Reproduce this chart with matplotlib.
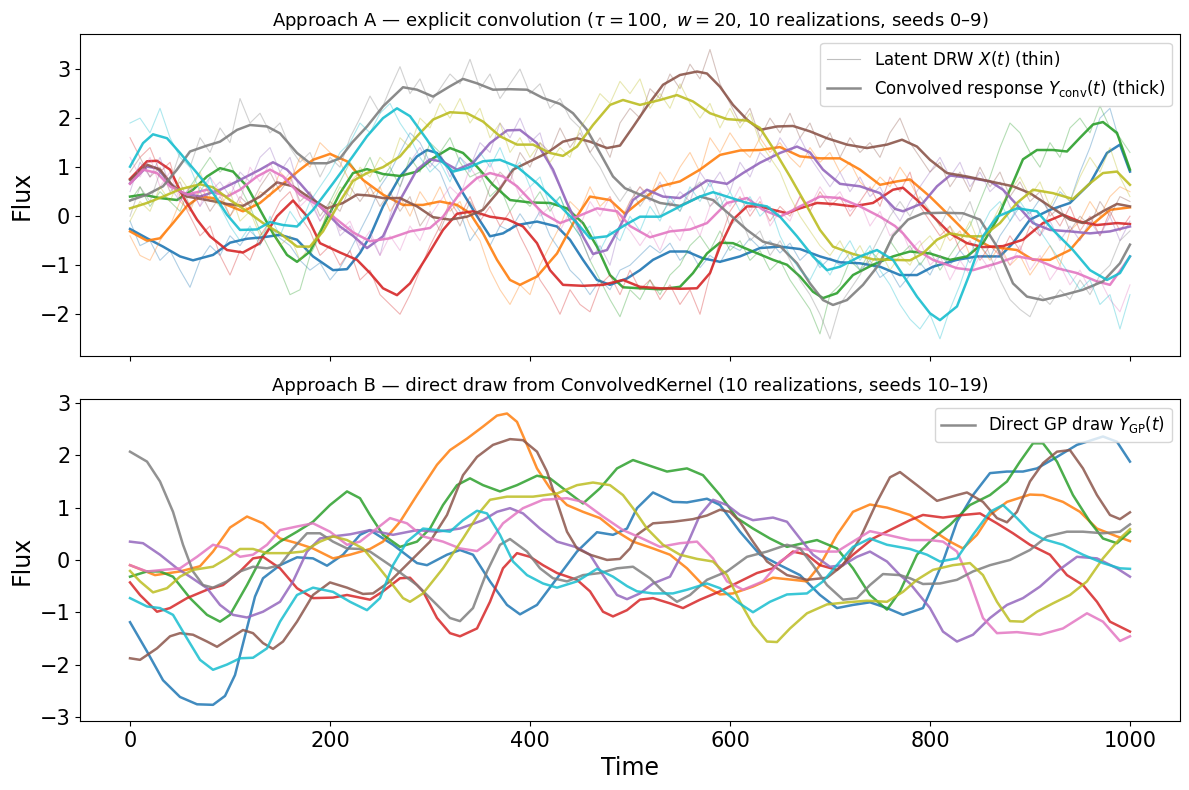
import matplotlib
matplotlib.use("Agg")
import matplotlib.pyplot as plt
from matplotlib.lines import Line2D

COLORS = ["tab:blue", "tab:orange", "tab:green", "tab:red", "tab:purple",
          "tab:brown", "tab:pink", "tab:gray", "tab:olive", "tab:cyan"]

# latent curves were read every 10 time units
T10 = list(range(0, 1001, 10))

# ---- Approach A: convolved responses (thick), seeds 0-9, read as (time, flux) ----
conv0_t = [0, 17, 33, 50, 63, 83, 100, 117, 133, 150, 167, 183, 203, 217, 230, 240, 253, 270, 287, 297, 307, 320, 333, 347, 360, 373, 387, 407, 427, 440, 453, 467, 480, 497, 510, 523, 540, 557, 573, 590, 610, 630, 650, 670, 690, 710, 730, 750, 770, 787, 803, 827, 847, 870, 883, 900, 920, 940, 960, 977, 990, 1000]
conv0_y = [-0.26, -0.45, -0.62, -0.82, -0.9, -0.79, -0.54, -0.46, -0.43, -0.38, -0.48, -0.82, -1.1, -1.08, -0.75, -0.41, 0.2, 0.81, 1.22, 1.35, 1.29, 0.95, 0.47, 0.0, -0.41, -0.35, -0.18, -0.11, -0.21, -0.48, -0.89, -1.3, -1.4, -1.27, -1.1, -0.89, -0.72, -0.72, -0.86, -0.93, -0.82, -0.65, -0.62, -0.67, -0.82, -0.94, -0.96, -1.03, -1.2, -1.2, -1.03, -0.89, -0.82, -0.82, -0.55, -0.07, 0.13, 0.27, 0.67, 1.29, 1.46, 0.91]
conv1_t = [0, 17, 30, 43, 57, 70, 83, 97, 113, 130, 150, 170, 183, 200, 217, 233, 253, 273, 293, 310, 327, 340, 353, 367, 380, 390, 407, 427, 447, 460, 480, 495, 510, 530, 550, 570, 590, 610, 630, 650, 670, 690, 710, 730, 750, 767, 780, 800, 820, 840, 860, 887, 903, 920, 940, 960, 980, 1000]
conv1_y = [-0.31, -0.5, -0.45, -0.14, 0.21, 0.4, 0.37, 0.23, 0.1, 0.27, 0.61, 0.95, 1.15, 1.27, 1.12, 0.74, 0.44, 0.23, 0.23, 0.3, 0.23, 0.06, -0.35, -0.89, -1.3, -1.4, -1.23, -0.76, 0.0, 0.4, 0.33, 0.05, 0.3, 0.61, 0.71, 0.95, 1.25, 1.34, 1.35, 1.41, 1.22, 1.18, 1.18, 0.95, 0.64, 0.71, 0.75, 0.4, 0.0, -0.41, -0.62, -0.69, -0.89, -0.89, -0.69, -0.21, 0.13, 0.18]
conv2_t = [0, 13, 30, 47, 63, 77, 90, 103, 117, 130, 143, 157, 167, 180, 193, 210, 223, 237, 253, 270, 287, 303, 320, 333, 347, 363, 380, 400, 420, 437, 453, 467, 480, 493, 510, 530, 550, 563, 577, 590, 603, 623, 643, 657, 670, 683, 693, 707, 723, 743, 763, 780, 800, 820, 837, 853, 867, 880, 893, 907, 923, 937, 950, 963, 973, 987, 1000]
conv2_y = [0.4, 0.44, 0.37, 0.33, 0.54, 0.81, 0.98, 0.91, 0.61, 0.13, -0.35, -0.79, -0.93, -0.72, -0.21, 0.47, 0.88, 0.96, 0.86, 0.82, 0.91, 1.18, 1.39, 1.29, 1.01, 0.64, 0.33, 0.28, 0.27, 0.16, -0.14, -0.62, -1.2, -1.45, -1.47, -1.49, -1.44, -1.16, -0.76, -0.54, -0.55, -0.72, -0.89, -0.99, -1.23, -1.54, -1.67, -1.57, -1.2, -0.99, -0.82, -0.72, -0.76, -0.89, -0.82, -0.55, -0.07, 0.54, 1.16, 1.35, 1.35, 1.32, 1.6, 1.87, 1.92, 1.7, 0.95]
conv3_t = [0, 17, 27, 40, 53, 67, 80, 97, 113, 130, 147, 163, 177, 190, 210, 227, 240, 253, 267, 280, 297, 313, 327, 343, 360, 377, 393, 407, 420, 433, 453, 473, 493, 510, 530, 550, 567, 580, 590, 603, 617, 630, 643, 657, 670, 687, 703, 723, 743, 763, 773, 787, 803, 820, 837, 853, 873, 893, 913, 933, 950, 967, 987, 1000]
conv3_y = [0.76, 1.12, 1.13, 0.95, 0.4, -0.07, -0.41, -0.69, -0.74, -0.55, 0.0, 0.32, 0.0, -0.55, -0.74, -0.89, -1.16, -1.47, -1.61, -1.37, -0.82, -0.28, 0.05, 0.1, -0.01, -0.06, -0.21, -0.55, -1.1, -1.4, -1.42, -1.4, -1.3, -1.44, -1.47, -1.48, -1.47, -1.16, -0.62, -0.07, 0.2, 0.2, 0.13, 0.06, 0.16, 0.27, 0.25, 0.2, 0.27, 0.54, 0.58, 0.33, 0.0, -0.35, -0.55, -0.63, -0.61, -0.48, -0.14, 0.03, -0.11, -0.18, -0.14, -0.16]
conv4_t = [0, 17, 27, 40, 53, 70, 90, 110, 130, 143, 157, 170, 190, 210, 223, 237, 253, 270, 287, 300, 313, 327, 343, 360, 377, 390, 407, 423, 437, 453, 463, 477, 490, 503, 517, 533, 550, 563, 577, 597, 613, 630, 650, 667, 680, 693, 710, 730, 750, 765, 773, 793, 807, 820, 840, 860, 873, 887, 903, 920, 940, 960, 980, 1000]
conv4_y = [0.67, 1.01, 0.98, 0.67, 0.47, 0.4, 0.54, 0.74, 0.95, 1.1, 0.95, 0.67, 0.2, -0.21, -0.4, -0.65, -0.41, 0.33, 0.95, 1.16, 1.11, 0.95, 1.09, 1.49, 1.75, 1.76, 1.49, 0.95, 0.27, -0.41, -0.77, -0.69, -0.21, 0.33, 0.54, 0.4, 0.37, 0.54, 0.73, 0.66, 0.88, 1.09, 1.29, 1.42, 1.3, 0.95, 0.66, 0.61, 0.47, 0.15, 0.1, 0.27, 0.61, 0.83, 0.78, 0.71, 0.54, 0.23, -0.14, -0.28, -0.31, -0.35, -0.31, -0.21]
conv5_t = [0, 17, 30, 43, 57, 77, 97, 113, 130, 147, 163, 180, 197, 213, 227, 240, 253, 270, 287, 303, 320, 337, 353, 367, 383, 400, 417, 433, 447, 460, 477, 490, 503, 517, 533, 550, 567, 577, 590, 603, 617, 630, 647, 663, 680, 697, 717, 737, 757, 772, 787, 800, 817, 837, 860, 883, 900, 920, 940, 953, 973, 987, 1000]
conv5_y = [0.74, 1.05, 0.95, 0.61, 0.4, 0.33, 0.25, 0.21, 0.4, 0.69, 0.61, 0.37, 0.16, 0.27, 0.44, 0.42, 0.37, 0.37, 0.2, -0.02, -0.07, -0.01, 0.13, 0.47, 0.95, 1.12, 1.29, 1.52, 1.59, 1.52, 1.39, 1.44, 1.82, 2.24, 2.68, 2.88, 2.95, 2.91, 2.64, 2.27, 1.97, 1.76, 1.83, 1.84, 1.73, 1.59, 1.46, 1.39, 1.46, 1.56, 1.42, 1.15, 0.88, 0.81, 0.71, 0.61, 0.47, 0.2, -0.07, -0.14, 0.1, 0.25, 0.2]
conv6_t = [0, 13, 27, 40, 57, 77, 97, 110, 127, 140, 153, 170, 190, 207, 223, 240, 260, 280, 300, 313, 330, 347, 360, 373, 387, 400, 413, 430, 447, 467, 487, 500, 520, 540, 560, 577, 597, 617, 633, 650, 670, 690, 710, 730, 750, 765, 773, 787, 803, 827, 843, 867, 887, 907, 927, 947, 967, 980, 993, 1000]
conv6_y = [0.66, 0.95, 0.88, 0.61, 0.44, 0.54, 0.4, 0.54, 0.81, 0.95, 0.81, 0.44, 0.2, -0.07, -0.33, -0.51, -0.45, -0.31, -0.24, -0.01, 0.47, 0.78, 0.88, 0.81, 0.61, 0.33, 0.06, -0.14, -0.01, 0.16, 0.1, -0.2, -0.43, -0.31, -0.27, -0.14, 0.27, 0.37, 0.13, -0.01, 0.2, 0.4, 0.37, 0.2, -0.01, -0.2, -0.35, -0.69, -0.89, -1.06, -1.1, -0.96, -0.82, -0.89, -1.06, -1.16, -1.33, -1.4, -1.03, -0.82]
conv7_t = [0, 17, 33, 47, 60, 77, 90, 107, 120, 137, 150, 167, 180, 197, 210, 222, 237, 253, 273, 287, 303, 320, 333, 347, 363, 380, 397, 413, 430, 443, 457, 470, 483, 495, 510, 530, 550, 570, 583, 600, 617, 633, 650, 667, 680, 693, 703, 717, 733, 750, 763, 778, 793, 813, 833, 850, 867, 883, 897, 913, 933, 953, 973, 990, 1000]
conv7_y = [0.32, 0.44, 0.61, 0.95, 1.32, 1.44, 1.52, 1.76, 1.86, 1.83, 1.69, 1.29, 1.08, 1.08, 1.18, 1.5, 1.83, 2.24, 2.63, 2.58, 2.44, 2.65, 2.8, 2.71, 2.58, 2.59, 2.58, 2.41, 2.29, 2.1, 1.76, 1.29, 0.81, 0.57, 0.44, 0.27, 0.21, 0.4, 0.33, 0.03, -0.28, -0.52, -0.61, -0.96, -1.37, -1.71, -1.81, -1.71, -1.4, -0.96, -0.4, -0.07, 0.06, 0.07, 0.06, -0.07, -0.62, -1.37, -1.64, -1.71, -1.61, -1.5, -1.33, -0.96, -0.58]
conv8_t = [0, 17, 33, 50, 70, 83, 100, 117, 133, 150, 167, 180, 193, 210, 223, 237, 253, 270, 287, 303, 320, 337, 353, 370, 387, 403, 420, 433, 447, 463, 480, 493, 510, 530, 547, 563, 580, 597, 617, 630, 643, 660, 677, 690, 703, 723, 743, 763, 780, 793, 807, 820, 837, 853, 870, 887, 903, 923, 943, 960, 973, 987, 1000]
conv8_y = [0.16, 0.27, 0.4, 0.55, 0.65, 0.59, 0.33, 0.1, -0.14, -0.35, -0.62, -0.62, -0.31, 0.3, 0.72, 0.88, 1.0, 1.22, 1.63, 1.97, 2.12, 2.1, 1.93, 1.63, 1.46, 1.46, 1.29, 1.23, 1.42, 1.86, 2.27, 2.37, 2.27, 2.37, 2.47, 2.34, 2.1, 1.98, 1.95, 1.8, 1.39, 0.81, 0.2, -0.28, -0.62, -0.77, -0.88, -0.89, -0.9, -0.76, -0.48, -0.35, -0.41, -0.41, -0.14, 0.27, 0.54, 0.47, 0.35, 0.67, 0.88, 0.91, 0.64]
conv9_t = [0, 13, 23, 37, 50, 67, 83, 97, 110, 127, 140, 153, 167, 183, 203, 222, 237, 253, 267, 280, 297, 310, 323, 337, 353, 370, 387, 407, 427, 447, 460, 477, 495, 510, 530, 550, 570, 583, 597, 617, 637, 650, 667, 683, 697, 710, 730, 747, 763, 773, 787, 800, 810, 827, 840, 853, 867, 887, 907, 923, 943, 960, 977, 990, 1000]
conv9_y = [1.01, 1.49, 1.67, 1.59, 1.29, 0.88, 0.47, 0.03, -0.28, -0.27, -0.12, -0.18, -0.21, 0.13, 0.67, 1.2, 1.63, 2.0, 2.2, 2.04, 1.56, 1.15, 0.91, 0.98, 1.12, 1.15, 1.01, 0.67, 0.27, -0.14, -0.45, -0.41, -0.18, -0.01, -0.01, 0.2, 0.4, 0.49, 0.4, 0.27, 0.2, -0.01, -0.41, -0.82, -1.1, -1.03, -0.82, -0.69, -0.89, -1.2, -1.64, -1.98, -2.12, -1.84, -1.16, -0.41, -0.01, 0.16, 0.1, -0.28, -0.69, -1.1, -1.3, -1.16, -0.82]

# ---- Approach A: latent DRW (thin), seeds 0-9, one value every 10 time units ----
drw_0 = [-0.1, -0.6, -0.5, -0.9, -0.7, -1.1, -1.45, -0.9, -0.6, -0.8, -0.4, -0.6, -0.3, -0.5, -0.2, -0.45, -0.6, -0.9, -1.1, -0.95, -1.3, -1.05, -0.7, -0.3, 0.1, 0.6, 0.9, 1.3, 1.7, 1.5, 1.1, 0.9, 0.4, 0.1, -0.5, -0.2, -0.6, -0.2, -0.3, 0.05, -0.25, 0.1, -0.4, -0.7, -1.1, -1.3, -1.6, -1.3, -1.5, -1.1, -1.0, -0.8, -0.6, -0.75, -0.55, -0.9, -0.7, -1.05, -0.8, -0.95, -0.6, -0.7, -0.45, -0.65, -0.5, -0.75, -0.55, -0.9, -0.7, -1.05, -0.85, -1.0, -0.75, -1.1, -0.9, -1.25, -1.1, -1.45, -1.2, -0.95, -1.2, -0.8, -1.0, -0.7, -0.95, -0.6, -0.85, -0.4, -0.1, 0.2, 0.05, 0.35, 0.1, 0.5, 0.3, 0.9, 1.4, 2.0, 2.2, 1.5, 0.9]
drw_1 = [-0.4, -0.8, -0.9, -0.5, -0.2, 0.3, 0.1, 0.6, 0.3, 0.5, 0.0, 0.3, 0.1, 0.5, 0.4, 0.9, 0.7, 1.2, 1.0, 1.5, 1.3, 1.1, 0.7, 0.9, 0.4, 0.6, 0.1, 0.4, 0.0, 0.5, 0.2, 0.6, 0.1, 0.3, -0.2, -0.5, -1.1, -1.5, -1.8, -1.4, -1.6, -1.0, -0.6, -0.2, 0.3, 0.1, 0.6, 0.2, 0.4, -0.1, 0.3, 0.6, 0.4, 0.9, 0.6, 1.0, 1.3, 0.9, 1.6, 1.3, 1.7, 1.4, 1.2, 1.6, 1.3, 1.5, 1.2, 1.0, 1.4, 1.1, 1.3, 0.9, 1.1, 0.7, 0.5, 0.8, 0.6, 1.0, 0.7, 0.3, 0.1, -0.2, -0.5, -0.3, -0.8, -0.6, -0.9, -0.6, -1.0, -0.8, -1.2, -0.9, -0.6, -1.0, -0.3, -0.1, 0.3, 0.0, 0.4, 0.6, 0.5]
drw_2 = [0.3, 0.6, 0.2, 0.5, 0.3, 0.1, 0.6, 0.9, 1.2, 0.9, 1.1, 0.6, 0.2, -0.3, -0.7, -1.1, -1.6, -1.5, -0.8, -0.4, 0.3, 0.7, 1.1, 0.8, 1.2, 0.7, 1.0, 0.6, 1.2, 0.9, 1.5, 1.3, 1.6, 1.1, 0.8, 0.9, 0.4, 0.6, 0.1, 0.4, 0.2, 0.5, 0.1, 0.4, -0.1, -0.4, -0.9, -1.3, -1.7, -2.05, -1.5, -1.7, -1.3, -1.6, -1.2, -1.0, -0.6, -0.4, -0.7, -0.3, -0.7, -0.5, -0.9, -0.7, -1.1, -0.9, -1.3, -1.6, -1.9, -2.4, -1.6, -1.4, -0.9, -1.1, -0.7, -0.9, -0.5, -0.8, -0.6, -1.0, -0.7, -1.1, -0.8, -0.5, -0.2, 0.3, 0.8, 1.4, 1.9, 1.7, 1.3, 1.0, 1.5, 1.2, 1.8, 2.0, 1.7, 2.25, 1.8, 1.6, 1.3]
drw_3 = [1.6, 1.2, 1.4, 0.9, 1.1, 0.4, 0.0, -0.4, -0.2, -0.8, -1.2, -0.7, -0.9, -0.4, -0.1, 0.3, 0.5, 0.0, -0.3, -0.8, -0.6, -1.0, -0.7, -1.3, -1.1, -1.6, -1.8, -2.0, -1.6, -1.1, -0.6, -0.2, 0.3, 0.0, 0.4, -0.1, 0.2, -0.2, 0.1, -0.4, -0.8, -1.3, -1.6, -2.0, -1.5, -1.8, -1.95, -1.4, -1.2, -1.6, -1.1, -1.5, -1.3, -1.7, -1.4, -1.8, -1.5, -2.0, -1.2, -0.5, 0.1, 0.4, 0.0, 0.3, -0.1, 0.2, 0.0, 0.4, 0.1, 0.5, 0.2, 0.4, 0.0, 0.3, 0.6, 0.2, 0.8, 0.5, 0.9, 0.2, -0.1, -0.4, -0.2, -0.7, -0.5, -0.9, -0.6, -0.8, -0.4, -0.7, -0.2, -0.4, 0.1, -0.2, 0.2, -0.3, 0.0, -0.4, 0.1, -0.3, 0.0]
drw_4 = [0.5, 1.1, 0.8, 1.2, 0.6, 0.3, 0.6, 0.2, 0.5, 0.7, 0.4, 0.9, 0.7, 1.2, 1.4, 0.9, 1.2, 0.5, 0.3, -0.1, 0.2, -0.4, -0.2, -0.7, -0.4, -0.8, 0.0, 0.6, 1.1, 1.4, 1.0, 1.3, 0.8, 1.2, 1.0, 1.5, 1.3, 1.9, 1.6, 2.0, 1.5, 1.7, 1.0, 0.6, 0.1, -0.4, -0.9, -0.6, -1.0, -0.2, 0.3, 0.6, 0.3, 0.7, 0.2, 0.5, 0.3, 0.9, 0.6, 0.9, 0.5, 1.1, 0.8, 1.3, 1.1, 1.6, 1.3, 1.6, 1.2, 0.9, 0.6, 0.9, 0.5, 0.8, 0.4, 0.6, 0.2, -0.1, 0.3, 0.6, 0.9, 1.2, 0.8, 1.1, 0.6, 0.9, 0.5, 0.7, 0.2, -0.1, 0.1, -0.4, -0.1, -0.5, -0.2, -0.5, -0.1, -0.4, 0.0, -0.5, -0.1]
drw_5 = [0.9, 1.2, 0.8, 1.0, 0.5, 0.7, 0.2, 0.5, 0.1, 0.4, 0.0, 0.4, 0.2, 0.6, 0.9, 0.5, 0.8, 0.3, 0.5, 0.0, 0.3, 0.1, 0.6, 0.3, 0.6, 0.2, 0.5, 0.1, 0.4, -0.2, 0.1, -0.3, 0.2, -0.2, 0.3, 0.0, 0.6, 0.9, 0.7, 1.3, 1.0, 1.5, 1.3, 1.8, 1.4, 1.7, 1.3, 1.6, 1.2, 1.9, 2.2, 2.0, 2.6, 2.4, 2.9, 2.6, 3.1, 2.8, 3.4, 2.7, 2.3, 1.9, 2.2, 1.6, 2.0, 1.7, 2.1, 1.6, 1.9, 1.4, 1.7, 1.2, 1.6, 1.3, 1.5, 1.2, 1.7, 2.0, 1.5, 1.2, 0.9, 1.1, 0.6, 0.9, 0.5, 1.0, 0.6, 0.9, 0.4, 0.7, 0.3, 0.5, 0.0, 0.2, -0.3, 0.0, -0.2, 0.3, 0.0, 0.4, 0.3]
drw_6 = [1.2, 0.8, 1.2, 0.6, 0.9, 0.3, 0.6, 0.2, 0.8, 0.5, 0.7, 0.3, 1.0, 0.7, 1.1, 0.6, 0.9, 0.2, 0.4, -0.1, 0.2, -0.3, -0.1, -0.6, -0.3, -0.8, -0.4, -0.7, -0.2, -0.5, 0.0, 0.3, 0.6, 0.4, 1.0, 0.7, 1.1, 0.6, 0.9, 0.4, 0.6, 0.0, 0.2, -0.3, 0.1, -0.2, 0.3, 0.0, 0.4, -0.1, -0.3, -0.6, -0.3, -0.7, -0.2, -0.5, 0.0, -0.4, 0.2, 0.5, 0.2, 0.6, 0.1, 0.4, -0.2, 0.1, -0.1, 0.4, 0.2, 0.6, 0.3, 0.5, 0.1, 0.3, -0.2, 0.1, -0.4, -0.2, -0.7, -0.5, -1.0, -0.8, -1.3, -0.9, -1.2, -0.8, -1.1, -0.7, -1.0, -0.6, -1.1, -0.8, -1.3, -1.0, -1.4, -1.1, -1.5, -1.3, -1.7, -1.95, -1.4]
drw_7 = [0.0, 0.6, 0.3, 0.9, 0.7, 1.3, 1.0, 1.6, 1.3, 1.8, 1.5, 2.4, 1.9, 2.1, 1.7, 1.9, 1.4, 1.1, 1.3, 0.8, 1.2, 1.0, 1.6, 2.0, 2.45, 2.1, 2.6, 3.05, 2.5, 2.8, 2.3, 2.6, 2.9, 2.7, 3.2, 2.6, 2.9, 2.4, 2.7, 3.0, 2.5, 2.7, 2.2, 2.4, 2.0, 1.8, 1.3, 1.0, 0.6, 0.3, 0.6, 0.2, 0.5, 0.0, 0.3, 0.1, 0.5, 0.7, 0.2, 0.4, -0.2, 0.0, -0.5, -0.3, -0.8, -0.5, -0.9, -1.3, -1.6, -2.0, -2.5, -1.8, -1.5, -1.2, -0.8, -0.4, 0.0, 0.3, 0.0, 0.4, 0.1, -0.2, 0.2, -0.1, 0.3, -0.3, -0.8, -1.3, -1.7, -1.9, -2.05, -1.6, -1.8, -1.5, -1.7, -1.3, -1.6, -1.2, -1.0, -0.5, -0.3]
drw_8 = [-0.1, 0.3, 0.1, 0.6, 0.3, 0.8, 0.5, 0.9, 0.4, 0.2, 0.5, -0.1, 0.1, -0.4, -0.2, -0.6, -0.4, -0.9, -0.6, -0.3, 0.2, 0.6, 0.4, 1.0, 0.8, 1.2, 1.0, 1.6, 1.4, 2.0, 1.8, 2.3, 2.0, 2.4, 1.9, 2.2, 1.6, 1.9, 1.3, 1.6, 1.2, 1.5, 1.1, 1.4, 1.2, 1.8, 2.1, 2.5, 2.3, 2.75, 2.5, 2.8, 2.2, 2.5, 2.2, 2.7, 2.3, 2.0, 2.3, 1.8, 2.2, 1.8, 2.1, 1.5, 1.2, 0.9, 0.4, 0.0, -0.3, -0.6, -0.8, -0.5, -0.9, -0.6, -1.0, -0.7, -1.1, -0.8, -1.0, -0.6, -0.4, -0.7, -0.2, -0.5, -0.1, -0.6, -0.2, 0.2, 0.5, 0.8, 0.4, 0.7, 0.2, 0.6, 0.3, 0.8, 1.2, 0.9, 1.4, 0.8, 0.4]
drw_9 = [1.9, 2.0, 1.7, 2.2, 1.6, 1.2, 1.0, 0.5, 0.8, 0.2, -0.2, -0.5, -0.2, -0.6, 0.0, -0.4, 0.1, -0.2, 0.3, 0.6, 0.9, 1.3, 1.5, 1.9, 1.7, 2.1, 2.3, 1.9, 1.6, 1.2, 0.9, 1.1, 0.7, 1.2, 0.9, 1.3, 1.0, 1.4, 0.9, 1.1, 0.6, 0.8, 0.2, 0.4, -0.1, -0.4, -0.2, -0.7, -0.3, -0.5, 0.0, -0.3, 0.2, -0.1, 0.4, 0.1, 0.6, 0.3, 0.7, 0.2, 0.5, 0.1, 0.4, 0.0, 0.2, -0.4, -0.8, -1.1, -1.3, -0.9, -1.2, -0.8, -0.5, -0.9, -0.6, -1.1, -1.4, -1.8, -2.1, -2.3, -2.0, -2.5, -1.9, -1.4, -0.8, -0.3, 0.1, 0.3, -0.1, 0.3, 0.0, -0.3, -0.6, -0.9, -1.2, -1.5, -1.3, -1.8, -1.6, -2.3, -1.6]

# ---- Approach B: direct GP draws, seeds 10-19, read as (time, flux) ----
gp10_t = [0, 17, 33, 50, 67, 83, 95, 105, 117, 125, 133, 150, 167, 183, 197, 213, 230, 240, 263, 287, 297, 317, 330, 343, 360, 377, 390, 407, 427, 447, 467, 483, 497, 507, 523, 543, 557, 577, 590, 610, 630, 650, 670, 690, 707, 723, 740, 757, 773, 793, 813, 827, 843, 860, 877, 893, 907, 927, 947, 973, 987, 1000]
gp10_y = [-1.19, -1.75, -2.3, -2.62, -2.76, -2.77, -2.6, -2.2, -1.3, -0.7, -0.35, -0.1, 0.05, 0.03, -0.11, 0.1, 0.48, 0.57, 0.29, -0.06, -0.1, 0.1, 0.19, 0.1, -0.41, -0.86, -1.04, -0.86, -0.35, 0.16, 0.53, 0.48, 0.6, 0.99, 1.29, 1.11, 1.1, 1.17, 1.05, 0.54, 0.1, -0.1, -0.29, -0.67, -0.92, -0.86, -0.81, -0.92, -1.05, -0.92, -0.03, 0.73, 1.24, 1.66, 1.69, 1.69, 1.75, 1.97, 2.2, 2.36, 2.26, 1.88]
gp11_t = [0, 25, 50, 70, 83, 100, 117, 133, 150, 167, 183, 203, 220, 240, 253, 270, 287, 307, 320, 337, 353, 367, 377, 387, 397, 407, 420, 437, 453, 470, 487, 503, 523, 540, 557, 573, 590, 603, 623, 643, 663, 677, 690, 707, 723, 740, 757, 780, 800, 820, 833, 847, 860, 877, 900, 913, 933, 950, 967, 987, 1000]
gp11_y = [-0.1, -0.29, -0.22, -0.12, 0.16, 0.62, 0.83, 0.7, 0.41, 0.32, 0.22, 0.03, 0.1, 0.21, 0.35, 0.73, 1.24, 1.82, 2.1, 2.32, 2.55, 2.76, 2.8, 2.64, 2.2, 1.75, 1.37, 1.05, 0.92, 0.8, 0.54, 0.35, 0.22, 0.1, -0.16, -0.48, -0.66, -0.64, -0.51, -0.34, -0.38, -0.41, -0.1, 0.48, 0.92, 1.06, 1.0, 0.86, 0.6, 0.35, 0.22, 0.48, 0.86, 1.11, 1.25, 1.24, 1.11, 0.92, 0.6, 0.45, 0.36]
gp12_t = [0, 17, 30, 43, 60, 77, 90, 100, 117, 133, 150, 167, 183, 200, 217, 230, 240, 253, 270, 287, 300, 313, 327, 340, 353, 370, 387, 407, 420, 437, 453, 470, 487, 503, 523, 537, 557, 573, 590, 607, 623, 640, 657, 673, 687, 707, 723, 740, 757, 770, 787, 803, 820, 840, 860, 877, 890, 903, 913, 927, 943, 960, 973, 987, 1000]
gp12_y = [-0.32, -0.22, -0.22, -0.32, -0.73, -1.05, -1.18, -1.05, -0.48, 0.1, 0.35, 0.54, 0.73, 1.05, 1.31, 1.18, 0.86, 0.48, 0.25, 0.35, 0.6, 1.05, 1.43, 1.56, 1.43, 1.31, 1.43, 1.61, 1.56, 1.31, 1.08, 1.37, 1.75, 1.91, 1.78, 1.69, 1.75, 1.62, 1.24, 0.8, 0.6, 0.41, 0.25, 0.32, 0.38, 0.22, -0.16, -0.67, -0.95, -0.6, 0.1, 0.41, 0.67, 1.05, 1.24, 1.5, 1.88, 2.23, 2.23, 1.88, 1.24, 0.73, 0.41, 0.32, 0.54]
gp13_t = [0, 10, 27, 40, 57, 77, 93, 110, 123, 133, 150, 167, 183, 203, 217, 240, 253, 270, 280, 293, 307, 320, 330, 347, 360, 373, 387, 400, 413, 427, 447, 460, 473, 483, 497, 510, 523, 540, 553, 570, 590, 610, 627, 643, 663, 677, 690, 707, 723, 743, 763, 780, 793, 813, 833, 850, 867, 883, 900, 920, 937, 953, 967, 980, 1000]
gp13_y = [-0.43, -0.67, -0.99, -0.92, -0.73, -0.57, -0.48, -0.22, 0.03, 0.06, -0.16, -0.54, -0.73, -0.72, -0.67, -0.76, -0.6, -0.35, -0.34, -0.6, -1.11, -1.4, -1.46, -1.31, -0.8, -0.16, 0.13, 0.06, -0.1, -0.25, -0.38, -0.6, -0.99, -1.08, -0.96, -0.76, -0.73, -0.83, -0.92, -0.76, -0.6, -0.41, -0.25, -0.16, 0.16, 0.1, -0.1, -0.19, 0.1, 0.41, 0.6, 0.76, 0.86, 0.81, 0.86, 0.89, 0.7, 0.51, 0.29, 0.1, -0.29, -0.48, -0.8, -1.18, -1.37]
gp14_t = [0, 13, 30, 47, 60, 77, 90, 103, 117, 133, 150, 163, 177, 190, 203, 220, 240, 263, 287, 307, 330, 353, 367, 380, 393, 410, 427, 447, 460, 473, 487, 497, 510, 523, 540, 557, 570, 583, 597, 610, 623, 643, 657, 670, 683, 700, 713, 727, 740, 757, 770, 780, 800, 813, 827, 843, 860, 877, 893, 910, 927, 947, 967, 987, 1000]
gp14_y = [0.35, 0.32, 0.1, -0.16, -0.32, -0.54, -0.86, -1.05, -1.1, -0.99, -0.8, -0.41, 0.16, 0.41, 0.45, 0.49, 0.57, 0.48, 0.57, 0.54, 0.6, 0.76, 0.92, 0.99, 0.89, 0.6, 0.35, 0.24, 0.1, -0.29, -0.67, -0.75, -0.64, -0.45, -0.32, 0.29, 0.86, 1.15, 1.05, 0.86, 0.76, 0.81, 0.73, 0.41, 0.1, -0.13, -0.1, 0.06, 0.16, -0.03, -0.29, -0.45, -0.92, -1.37, -1.56, -1.43, -1.11, -0.86, -0.73, -0.51, -0.22, 0.06, 0.03, -0.16, -0.32]
gp15_t = [0, 10, 27, 40, 50, 63, 77, 87, 100, 113, 123, 133, 143, 153, 167, 183, 200, 217, 233, 243, 260, 280, 300, 317, 333, 347, 363, 380, 393, 407, 417, 427, 437, 447, 460, 477, 490, 500, 507, 523, 543, 563, 577, 590, 600, 610, 623, 637, 657, 677, 697, 713, 730, 747, 760, 770, 787, 807, 827, 837, 853, 867, 877, 887, 900, 913, 927, 940, 953, 967, 980, 990, 1000]
gp15_y = [-1.88, -1.91, -1.69, -1.46, -1.4, -1.43, -1.56, -1.66, -1.5, -1.34, -1.4, -1.59, -1.7, -1.56, -1.18, -0.67, -0.43, -0.53, -0.65, -0.64, -0.41, -0.03, 0.35, 0.86, 1.62, 1.97, 2.2, 2.31, 2.29, 2.07, 1.69, 1.11, 0.54, 0.22, 0.1, 0.0, 0.02, 0.22, 0.48, 0.7, 0.73, 0.78, 0.85, 0.96, 0.92, 0.73, 0.35, -0.03, -0.29, -0.38, -0.34, -0.1, 0.41, 1.11, 1.58, 1.68, 1.43, 1.13, 1.24, 1.29, 1.11, 0.8, 0.72, 0.92, 1.5, 1.85, 2.07, 2.1, 1.75, 1.24, 0.86, 0.78, 0.91]
gp16_t = [0, 17, 33, 50, 67, 83, 97, 110, 123, 137, 150, 167, 183, 200, 217, 230, 240, 260, 277, 293, 313, 330, 347, 360, 373, 393, 413, 437, 453, 473, 493, 510, 530, 550, 567, 583, 597, 613, 633, 650, 670, 690, 707, 723, 740, 757, 780, 800, 813, 827, 840, 853, 867, 887, 910, 933, 957, 973, 990, 1000]
gp16_y = [-0.1, -0.22, -0.19, -0.16, 0.06, 0.29, 0.22, 0.06, 0.1, 0.29, 0.57, 0.64, 0.7, 0.54, 0.29, 0.35, 0.5, 0.8, 0.7, 0.45, 0.35, 0.22, 0.17, 0.35, 0.7, 0.99, 1.15, 1.18, 1.11, 0.83, 0.57, 0.43, 0.25, 0.32, 0.35, 0.03, -0.41, -0.57, -0.41, -0.03, 0.22, 0.16, 0.16, 0.35, 0.55, 0.48, 0.38, 0.38, 0.35, 0.16, -0.41, -1.11, -1.4, -1.38, -1.43, -1.31, -1.02, -1.18, -1.55, -1.46]
gp17_t = [0, 17, 30, 43, 53, 63, 73, 83, 97, 110, 123, 137, 150, 163, 177, 190, 203, 217, 230, 240, 260, 287, 307, 320, 330, 343, 357, 370, 380, 397, 410, 423, 437, 453, 470, 487, 503, 520, 533, 547, 560, 577, 597, 617, 637, 657, 670, 683, 697, 713, 727, 740, 753, 770, 780, 793, 810, 827, 843, 860, 880, 900, 917, 937, 953, 973, 990, 1000]
gp17_y = [2.07, 1.88, 1.5, 0.92, 0.29, -0.22, -0.48, -0.53, -0.41, -0.22, -0.13, -0.16, -0.1, 0.22, 0.51, 0.51, 0.35, 0.22, 0.21, 0.16, -0.1, -0.48, -0.86, -1.11, -1.17, -0.92, -0.22, 0.29, 0.4, 0.16, -0.16, -0.35, -0.41, -0.29, -0.25, -0.16, -0.13, -0.35, -0.6, -0.8, -0.67, -0.38, -0.22, 0.06, 0.16, 0.29, 0.22, -0.1, -0.48, -0.76, -0.73, -0.48, -0.27, -0.29, -0.35, -0.46, -0.45, -0.38, -0.22, -0.1, 0.0, 0.19, 0.45, 0.54, 0.54, 0.51, 0.54, 0.68]
gp18_t = [0, 10, 23, 37, 50, 63, 83, 97, 110, 123, 137, 157, 173, 190, 203, 217, 233, 247, 260, 273, 280, 293, 313, 333, 350, 360, 377, 403, 427, 447, 463, 480, 493, 503, 517, 533, 550, 567, 583, 597, 610, 623, 637, 647, 660, 677, 697, 717, 737, 757, 773, 787, 803, 823, 840, 853, 867, 880, 893, 907, 923, 940, 957, 973, 990, 1000]
gp18_y = [-0.21, -0.41, -0.62, -0.54, -0.32, -0.19, -0.13, 0.03, 0.21, 0.21, 0.13, 0.13, 0.16, 0.35, 0.45, 0.38, 0.22, -0.1, -0.41, -0.73, -0.8, -0.64, -0.16, 0.41, 0.92, 1.15, 1.21, 1.21, 1.27, 1.43, 1.48, 1.43, 1.24, 0.99, 0.6, 0.29, 0.1, 0.02, -0.03, -0.29, -0.8, -1.24, -1.56, -1.57, -1.31, -1.02, -0.85, -0.81, -0.78, -0.8, -0.61, -0.38, -0.19, -0.1, -0.06, -0.29, -0.8, -1.17, -1.18, -0.99, -0.83, -0.67, -0.41, 0.03, 0.41, 0.59]
gp19_t = [0, 17, 30, 43, 57, 70, 83, 97, 110, 123, 137, 150, 167, 183, 203, 220, 237, 250, 263, 277, 293, 307, 320, 333, 347, 357, 370, 383, 397, 413, 427, 447, 467, 483, 497, 507, 523, 543, 557, 577, 590, 607, 623, 640, 657, 677, 693, 710, 723, 740, 757, 780, 797, 810, 827, 843, 860, 873, 887, 900, 913, 933, 953, 973, 990, 1000]
gp19_y = [-0.73, -0.89, -0.92, -1.05, -1.5, -1.91, -2.1, -2.0, -1.88, -1.87, -1.69, -1.18, -0.67, -0.53, -0.61, -0.8, -0.96, -0.73, -0.1, 0.35, 0.6, 0.57, 0.54, 0.76, 0.94, 0.89, 0.48, -0.03, -0.29, -0.45, -0.53, -0.41, -0.17, -0.32, -0.5, -0.6, -0.64, -0.64, -0.57, -0.45, -0.54, -0.8, -1.0, -0.8, -0.66, -0.64, -0.41, -0.03, 0.25, 0.41, 0.29, 0.21, 0.1, -0.03, 0.03, 0.48, 0.92, 1.05, 0.8, 0.54, 0.4, 0.29, 0.1, -0.06, -0.16, -0.17]

conv_curves = [(conv0_t, conv0_y), (conv1_t, conv1_y), (conv2_t, conv2_y), (conv3_t, conv3_y),
               (conv4_t, conv4_y), (conv5_t, conv5_y), (conv6_t, conv6_y), (conv7_t, conv7_y),
               (conv8_t, conv8_y), (conv9_t, conv9_y)]
drw_curves = [drw_0, drw_1, drw_2, drw_3, drw_4, drw_5, drw_6, drw_7, drw_8, drw_9]
gp_curves = [(gp10_t, gp10_y), (gp11_t, gp11_y), (gp12_t, gp12_y), (gp13_t, gp13_y),
             (gp14_t, gp14_y), (gp15_t, gp15_y), (gp16_t, gp16_y), (gp17_t, gp17_y),
             (gp18_t, gp18_y), (gp19_t, gp19_y)]

fig, (ax1, ax2) = plt.subplots(2, 1, figsize=(11.89, 7.9), dpi=100, sharex=True)
fig.subplots_adjust(left=0.0673, right=0.9924, top=0.9566, bottom=0.0873, hspace=0.135)

# panel A: thin latent + thick convolved, same colour per seed
for c, x, (tt, y) in zip(COLORS, drw_curves, conv_curves):
    ax1.plot(T10, x, color=c, lw=0.8, alpha=0.35)
    ax1.plot(tt, y, color=c, lw=1.8, alpha=0.9)
ax1.set_title(r"Approach A — explicit convolution ($\tau=100,\ w=20$, 10 realizations, seeds 0–9)",
              fontsize=13)
ax1.set_ylabel("Flux", fontsize=17)
ax1.set_ylim(-2.85, 3.71)
ax1.tick_params(labelsize=15)
h = [Line2D([0], [0], color="gray", lw=0.8, alpha=0.5),
     Line2D([0], [0], color="gray", lw=1.8, alpha=0.9)]
ax1.legend(h, [r"Latent DRW $X(t)$ (thin)", r"Convolved response $Y_{\rm conv}(t)$ (thick)"],
           loc="upper right", fontsize=12)

# panel B: direct draws
for c, (tt, y) in zip(COLORS, gp_curves):
    ax2.plot(tt, y, color=c, lw=1.8, alpha=0.85)
ax2.set_title("Approach B — direct draw from ConvolvedKernel (10 realizations, seeds 10–19)", fontsize=13)
ax2.set_ylabel("Flux", fontsize=17)
ax2.set_xlabel("Time", fontsize=17)
ax2.set_ylim(-3.08, 3.07)
ax2.set_xlim(-50, 1050)
ax2.tick_params(labelsize=15)
ax2.legend([Line2D([0], [0], color="gray", lw=1.8, alpha=0.9)], [r"Direct GP draw $Y_{\rm GP}(t)$"],
           loc="upper right", fontsize=12)

fig.savefig("out.png", dpi=100)
